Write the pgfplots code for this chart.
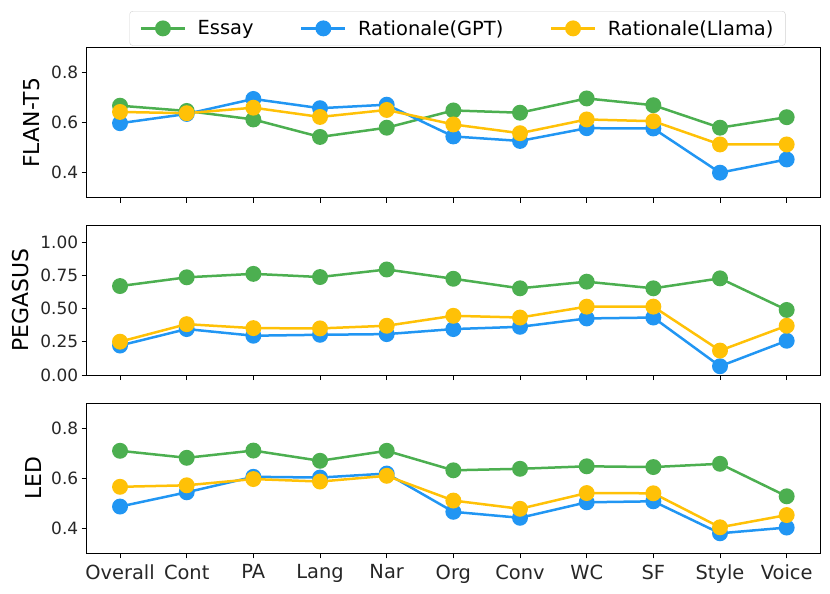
\documentclass[border=0pt]{standalone}
\usepackage{pgfplots}
\pgfplotsset{compat=1.18}
\usepackage{fontspec}
\setmainfont{DejaVu Sans}
\definecolor{cEssay}{HTML}{4CAF50}
\definecolor{cGPT}{HTML}{2196F3}
\definecolor{cLlama}{HTML}{FFC107}
\pgfplotsset{
  base/.style={
    scale only axis, width=733.3bp, height=150bp,
    xmin=-0.5, xmax=10.5,
    xtick={0,...,10},
    tick align=outside, xtick pos=bottom, ytick pos=left,
    major tick length=5bp,
    every tick/.style={black, line width=0.9bp},
    axis line style={black, line width=0.9bp},
    /pgf/number format/assume math mode=true,
    yticklabel style={font=\fontsize{17}{20}\selectfont, color=black!85},
    xticklabel style={font=\fontsize{19.5}{23}\selectfont, color=black!85, yshift=-3bp},
    ylabel style={font=\fontsize{22}{26}\selectfont, rotate=0, anchor=center},
    anchor=north west,
    every axis plot/.append style={line width=2.5bp, mark=*, mark size=6.7bp},
    legend image code/.code={\draw[line width=2.5bp, mark repeat=2, mark phase=2] plot coordinates {(0bp,0bp) (22bp,0bp) (44bp,0bp)};},
  },
  onedec/.style={yticklabel style={/pgf/number format/.cd, fixed, fixed zerofill, precision=1}},
  twodec/.style={yticklabel style={/pgf/number format/.cd, fixed, fixed zerofill, precision=2}},
}
\begin{document}
\begin{tikzpicture}
\useasboundingbox (0,0) rectangle (830bp,-594bp);
% FLAN-T5
\begin{axis}[base, onedec, at={(86.7bp,-47.7bp)},
  ymin=0.3, ymax=0.9, ytick={0.4,0.6,0.8},
  xticklabels={},
  ylabel={FLAN-T5}, ylabel style={at={(axis description cs:-0.0746,0.5)}},
  legend style={at={(0.5057,1.0133)}, anchor=south, legend columns=3,
    draw=black!18, rounded corners=3bp, font=\fontsize{19.5}{23}\selectfont,
    inner xsep=10bp, inner ysep=7bp,
    /tikz/every odd column/.append style={column sep=9.5bp},
    /tikz/every even column/.append style={column sep=44.5bp}},
]
\addplot[cEssay] coordinates {(0,0.668)(1,0.647)(2,0.613)(3,0.543)(4,0.580)(5,0.649)(6,0.640)(7,0.697)(8,0.670)(9,0.580)(10,0.622)};
\addlegendentry{Essay}
\addplot[cGPT] coordinates {(0,0.598)(1,0.635)(2,0.695)(3,0.658)(4,0.672)(5,0.545)(6,0.527)(7,0.578)(8,0.577)(9,0.400)(10,0.453)};
\addlegendentry{Rationale(GPT)}
\addplot[cLlama] coordinates {(0,0.643)(1,0.638)(2,0.660)(3,0.623)(4,0.651)(5,0.593)(6,0.558)(7,0.613)(8,0.606)(9,0.513)(10,0.513)};
\addlegendentry{Rationale(Llama)}
\end{axis}
% PEGASUS
\begin{axis}[base, twodec, at={(86.7bp,-225bp)},
  ymin=0, ymax=1.13, ytick={0,0.25,0.5,0.75,1.0},
  xticklabels={},
  ylabel={PEGASUS}, ylabel style={at={(axis description cs:-0.0900,0.5)}},
]
\addplot[cEssay] coordinates {(0,0.670)(1,0.736)(2,0.762)(3,0.738)(4,0.795)(5,0.725)(6,0.653)(7,0.703)(8,0.653)(9,0.728)(10,0.490)};
\addplot[cGPT] coordinates {(0,0.222)(1,0.346)(2,0.296)(3,0.303)(4,0.308)(5,0.346)(6,0.363)(7,0.426)(8,0.433)(9,0.066)(10,0.258)};
\addplot[cLlama] coordinates {(0,0.251)(1,0.383)(2,0.353)(3,0.351)(4,0.371)(5,0.446)(6,0.433)(7,0.515)(8,0.515)(9,0.184)(10,0.371)};
\end{axis}
% LED
\begin{axis}[base, onedec, at={(86.7bp,-403.3bp)},
  ymin=0.3, ymax=0.9, ytick={0.4,0.6,0.8},
  xticklabels={Overall,Cont,PA,Lang,Nar,Org,Conv,WC,SF,Style,Voice},
  ylabel={LED}, ylabel style={at={(axis description cs:-0.0728,0.5)}},
]
\addplot[cEssay] coordinates {(0,0.710)(1,0.682)(2,0.711)(3,0.670)(4,0.710)(5,0.632)(6,0.638)(7,0.648)(8,0.645)(9,0.658)(10,0.528)};
\addplot[cGPT] coordinates {(0,0.487)(1,0.544)(2,0.606)(3,0.603)(4,0.619)(5,0.466)(6,0.442)(7,0.504)(8,0.508)(9,0.380)(10,0.403)};
\addplot[cLlama] coordinates {(0,0.566)(1,0.572)(2,0.597)(3,0.587)(4,0.610)(5,0.511)(6,0.478)(7,0.541)(8,0.540)(9,0.404)(10,0.453)};
\end{axis}
\end{tikzpicture}
\end{document}
